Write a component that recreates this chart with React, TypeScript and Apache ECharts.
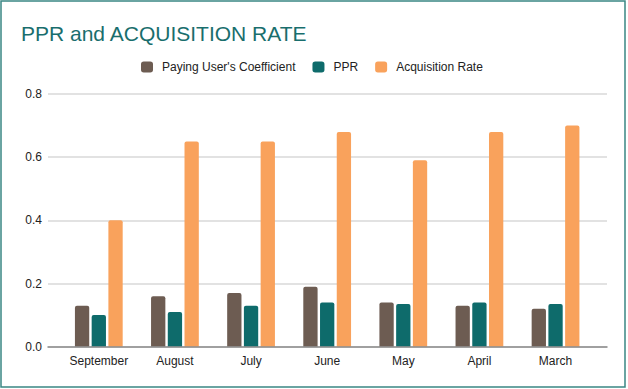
import React, { useEffect, useRef } from "react";
import * as echarts from "echarts";

const categories = ["September", "August", "July", "June", "May", "April", "March"];
const payingUsersCoefficient = [0.13, 0.16, 0.17, 0.19, 0.14, 0.13, 0.12];
const ppr = [0.10, 0.11, 0.13, 0.14, 0.135, 0.14, 0.135];
const acquisitionRate = [0.40, 0.65, 0.65, 0.68, 0.59, 0.68, 0.70];
const yTicks = [0, 0.2, 0.4, 0.6, 0.8];

const FONT = "'Liberation Sans', Arial, sans-serif";

export default function App() {
  const ref = useRef<HTMLDivElement>(null);
  useEffect(() => {
    if (!ref.current) return;
    const chart = echarts.init(ref.current, null, { renderer: "svg" });
    const yMax = yTicks[yTicks.length - 1];
    chart.setOption({
      animation: false,
      backgroundColor: "#ffffff",
      title: {
        text: "PPR and ACQUISITION RATE",
        left: 21,
        top: 23,
        padding: 0,
        textStyle: { fontFamily: FONT, fontSize: 21, fontWeight: "normal", color: "#196e6d" },
      },
      legend: {
        left: 141,
        top: 61,
        padding: 0,
        itemWidth: 12,
        itemHeight: 11,
        itemGap: 17,
        icon: "roundRect",
        textStyle: { fontFamily: FONT, fontSize: 12, color: "#222222", padding: [0, 0, 0, 4] },
        data: ["Paying User's Coefficient", "PPR", "Acquisition Rate"],
      },
      grid: [
        { left: 48, right: 21, top: 94, bottom: 42.3 },
        { left: 60.75, right: 34.4, top: 94, bottom: 42.3 },
      ],
      xAxis: [
        {
          gridIndex: 0,
          type: "category",
          data: categories,
          axisLine: { show: true, lineStyle: { color: "#8a8a8a", width: 1.5 } },
          axisTick: { show: false },
          axisLabel: { show: false },
          z: 5,
        },
        {
          gridIndex: 1,
          type: "category",
          data: categories,
          axisLine: { show: false },
          axisTick: { show: false },
          axisLabel: { interval: 0, fontFamily: FONT, fontSize: 12, color: "#222222", margin: 8 },
        },
      ],
      yAxis: [
        {
          gridIndex: 0,
          type: "value",
          min: 0,
          max: yMax,
          interval: 0.2,
          axisLine: { show: false },
          axisTick: { show: false },
          axisLabel: {
            fontFamily: FONT,
            fontSize: 12,
            color: "#222222",
            margin: 6,
            formatter: (v: number) => v.toFixed(1),
          },
          splitLine: { lineStyle: { color: "#d9d9d9", width: 1.5 } },
        },
        {
          gridIndex: 1,
          type: "value",
          min: 0,
          max: yMax,
          interval: 0.2,
          show: false,
          splitLine: { show: false },
        },
      ],
      series: [
        {
          name: "Paying User's Coefficient",
          type: "bar",
          xAxisIndex: 1,
          yAxisIndex: 1,
          data: payingUsersCoefficient,
          barWidth: 14.3,
          barGap: "17%",
          itemStyle: { color: "#6d5c52", borderRadius: [2, 2, 0, 0] },
        },
        {
          name: "PPR",
          type: "bar",
          xAxisIndex: 1,
          yAxisIndex: 1,
          data: ppr,
          barWidth: 14.3,
          barGap: "17%",
          itemStyle: { color: "#0e6b6b", borderRadius: [2, 2, 0, 0] },
        },
        {
          name: "Acquisition Rate",
          type: "bar",
          xAxisIndex: 1,
          yAxisIndex: 1,
          data: acquisitionRate,
          barWidth: 14.3,
          barGap: "17%",
          itemStyle: { color: "#f9a25c", borderRadius: [2, 2, 0, 0] },
        },
      ],
      graphic: [
        {
          type: "rect",
          shape: { x: 1, y: 1, width: 624, height: 386 },
          style: { fill: "none", stroke: "#3a8784", lineWidth: 1.5 },
          z: 100,
        },
      ],
    });
    return () => chart.dispose();
  }, []);
  return (
    <div
      ref={ref}
      style={{ position: "fixed", left: 0, top: 0, width: 628, height: 389, background: "#fff" }}
    />
  );
}
